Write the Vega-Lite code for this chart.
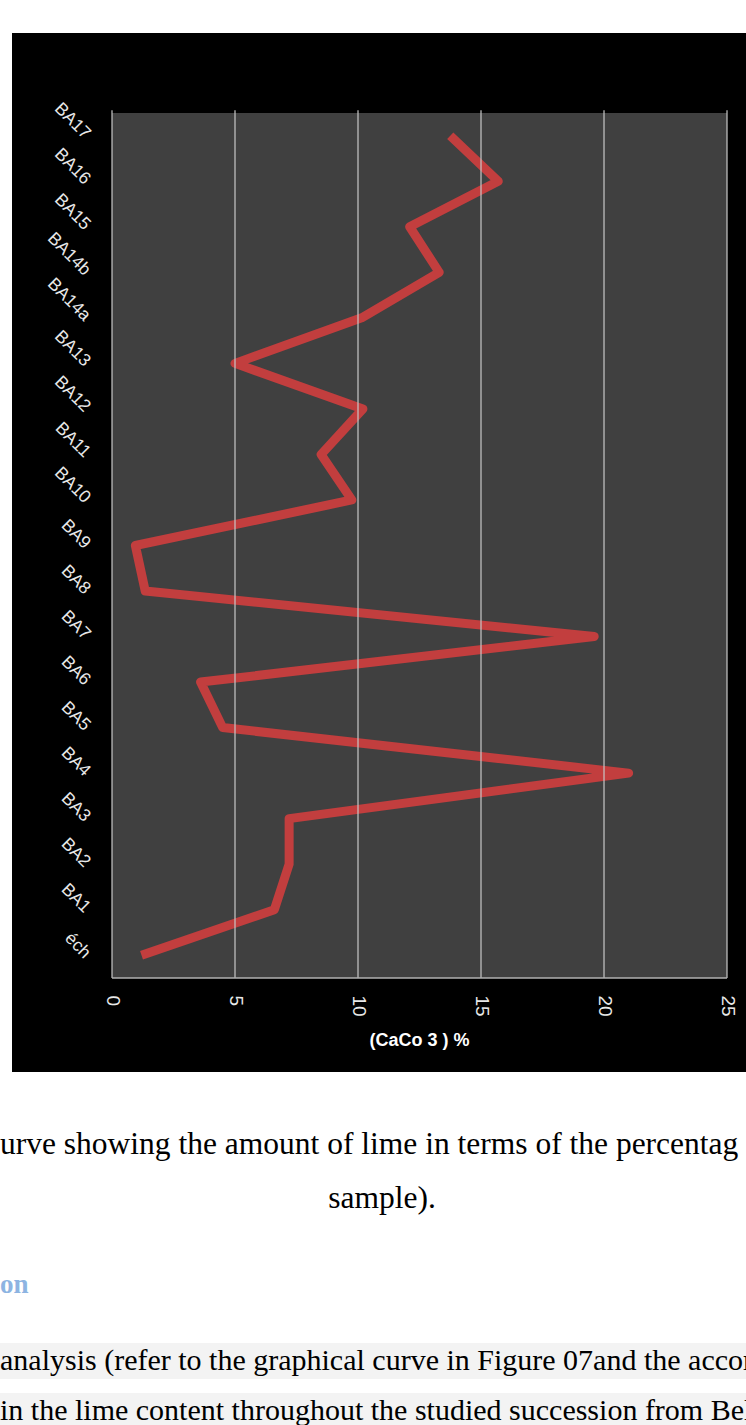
{
  "$schema": "https://vega.github.io/schema/vega-lite/v6.json",
  "width": 734,
  "height": 1039,
  "autosize": "none",
  "padding": {"left": 12, "top": 33, "right": 0, "bottom": 353},
  "background": "white",
  "config": {"view": {"fill": "black", "stroke": null}},
  "resolve": {"axis": {"x": "independent", "y": "independent"}},
  "layer": [
    {
      "data": {"values": [{}]},
      "mark": {"type": "rect", "color": "#404040"},
      "encoding": {
        "x": {"datum": 0, "type": "quantitative", "scale": {"domain": [-4.065, 25.772], "nice": false, "zero": false}, "axis": null},
        "x2": {"datum": 25},
        "y": {"datum": -0.5, "type": "quantitative", "scale": {"domain": [-2.565, 20.257], "nice": false, "zero": false}, "axis": null},
        "y2": {"datum": 18.5}
      }
    },
    {
      "data": {"values": [
        {"sample": "éch", "order": 0, "caco3": 1.2},
        {"sample": "BA1", "order": 1, "caco3": 6.6},
        {"sample": "BA2", "order": 2, "caco3": 7.2},
        {"sample": "BA3", "order": 3, "caco3": 7.2},
        {"sample": "BA4", "order": 4, "caco3": 21.0},
        {"sample": "BA5", "order": 5, "caco3": 4.5},
        {"sample": "BA6", "order": 6, "caco3": 3.6},
        {"sample": "BA7", "order": 7, "caco3": 19.6},
        {"sample": "BA8", "order": 8, "caco3": 1.35},
        {"sample": "BA9", "order": 9, "caco3": 0.95},
        {"sample": "BA10", "order": 10, "caco3": 9.75},
        {"sample": "BA11", "order": 11, "caco3": 8.5},
        {"sample": "BA12", "order": 12, "caco3": 10.2},
        {"sample": "BA13", "order": 13, "caco3": 5.0},
        {"sample": "BA14a", "order": 14, "caco3": 10.15},
        {"sample": "BA14b", "order": 15, "caco3": 13.3},
        {"sample": "BA15", "order": 16, "caco3": 12.1},
        {"sample": "BA16", "order": 17, "caco3": 15.7},
        {"sample": "BA17", "order": 18, "caco3": 13.75}
      ]},
      "mark": {"type": "line", "color": "#c23e3e", "strokeWidth": 9, "strokeJoin": "round", "strokeCap": "butt"},
      "encoding": {
        "x": {
          "field": "caco3", "type": "quantitative",
          "scale": {"domain": [-4.065, 25.772], "nice": false, "zero": false},
          "axis": {
            "orient": "bottom", "offset": -94, "values": [0, 5, 10, 15, 20, 25],
            "grid": false, "domain": false, "ticks": false,
            "labelAngle": 90, "labelAlign": "left", "labelBaseline": "middle", "labelPadding": 17,
            "labelFont": "Liberation Sans", "labelFontSize": 19, "labelColor": "#e8e8e8",
            "labelFlush": false, "labelOverlap": false,
            "title": "(CaCo 3 ) %", "titleFont": "Liberation Sans", "titleFontSize": 18, "titleFontWeight": "bold",
            "titleColor": "#ffffff", "titleX": 407, "titleY": 62, "titleAlign": "center", "titleBaseline": "middle"
          }
        },
        "y": {
          "field": "order", "type": "quantitative",
          "scale": {"domain": [-2.565, 20.257], "nice": false, "zero": false},
          "axis": {
            "orient": "left", "offset": -100, "values": [0, 1, 2, 3, 4, 5, 6, 7, 8, 9, 10, 11, 12, 13, 14, 15, 16, 17, 18],
            "labelExpr": "['éch','BA1','BA2','BA3','BA4','BA5','BA6','BA7','BA8','BA9','BA10','BA11','BA12','BA13','BA14a','BA14b','BA15','BA16','BA17'][datum.value]",
            "grid": false, "domain": false, "ticks": false,
            "labelAngle": 45, "labelAlign": "right", "labelBaseline": "middle", "labelPadding": 25,
            "labelFont": "Liberation Sans", "labelFontSize": 17.5, "labelColor": "#e8e8e8",
            "labelFlush": false, "labelOverlap": false, "title": null
          }
        },
        "order": {"field": "order", "type": "quantitative"}
      }
    },
    {
      "data": {"values": [{"v": 0}, {"v": 5}, {"v": 10}, {"v": 15}, {"v": 20}, {"v": 25}]},
      "mark": {"type": "rule", "color": "#c8c8c8", "strokeWidth": 1.2},
      "encoding": {
        "x": {"field": "v", "type": "quantitative", "scale": {"domain": [-4.065, 25.772], "nice": false, "zero": false}, "axis": null},
        "y": {"datum": -0.5, "type": "quantitative", "scale": {"domain": [-2.565, 20.257], "nice": false, "zero": false}, "axis": null},
        "y2": {"datum": 18.56}
      }
    },
    {
      "data": {"values": [{}]},
      "mark": {"type": "rule", "color": "#b0b0b0", "strokeWidth": 1.5},
      "encoding": {
        "x": {"datum": 0, "type": "quantitative", "scale": {"domain": [-4.065, 25.772], "nice": false, "zero": false}, "axis": null},
        "x2": {"datum": 25},
        "y": {"datum": -0.5, "type": "quantitative", "scale": {"domain": [-2.565, 20.257], "nice": false, "zero": false}, "axis": null}
      }
    },
    {
      "data": {"values": [{"y0": -8.518, "y1": -9.308}, {"y0": -9.616, "y1": -10.8}]},
      "mark": {"type": "rect", "color": "#f3f3f3"},
      "encoding": {
        "x": {"datum": -4.6, "type": "quantitative", "scale": {"domain": [-4.065, 25.772], "nice": false, "zero": false}, "axis": null},
        "x2": {"datum": 26.5},
        "y": {"field": "y0", "type": "quantitative", "scale": {"domain": [-2.565, 20.257], "nice": false, "zero": false}, "axis": null},
        "y2": {"field": "y1"}
      }
    },
    {
      "data": {"values": [{}]},
      "mark": {"type": "text", "text": "urve showing the amount of lime in terms of the percentag", "font": "Liberation Serif", "fontSize": 31.5, "align": "left", "baseline": "alphabetic", "color": "black"},
      "encoding": {
        "x": {"datum": -4.553, "type": "quantitative", "scale": {"domain": [-4.065, 25.772], "nice": false, "zero": false}, "axis": null},
        "y": {"datum": -4.366, "type": "quantitative", "scale": {"domain": [-2.565, 20.257], "nice": false, "zero": false}, "axis": null}
      }
    },
    {
      "data": {"values": [{}]},
      "mark": {"type": "text", "text": "sample).", "font": "Liberation Serif", "fontSize": 31.5, "align": "center", "baseline": "alphabetic", "color": "black"},
      "encoding": {
        "x": {"datum": 10.976, "type": "quantitative", "scale": {"domain": [-4.065, 25.772], "nice": false, "zero": false}, "axis": null},
        "y": {"datum": -5.552, "type": "quantitative", "scale": {"domain": [-2.565, 20.257], "nice": false, "zero": false}, "axis": null}
      }
    },
    {
      "data": {"values": [{}]},
      "mark": {"type": "text", "text": "on", "font": "Liberation Serif", "fontSize": 27, "fontWeight": "bold", "align": "left", "baseline": "alphabetic", "color": "#8db4e2"},
      "encoding": {
        "x": {"datum": -4.553, "type": "quantitative", "scale": {"domain": [-4.065, 25.772], "nice": false, "zero": false}, "axis": null},
        "y": {"datum": -7.419, "type": "quantitative", "scale": {"domain": [-2.565, 20.257], "nice": false, "zero": false}, "axis": null}
      }
    },
    {
      "data": {"values": [{}]},
      "mark": {"type": "text", "text": "analysis (refer to the graphical curve in Figure 07and the accom", "font": "Liberation Serif", "fontSize": 30, "align": "left", "baseline": "alphabetic", "color": "black"},
      "encoding": {
        "x": {"datum": -4.553, "type": "quantitative", "scale": {"domain": [-4.065, 25.772], "nice": false, "zero": false}, "axis": null},
        "y": {"datum": -9.111, "type": "quantitative", "scale": {"domain": [-2.565, 20.257], "nice": false, "zero": false}, "axis": null}
      }
    },
    {
      "data": {"values": [{}]},
      "mark": {"type": "text", "text": "in the lime content throughout the studied succession from Beld", "font": "Liberation Serif", "fontSize": 30, "align": "left", "baseline": "alphabetic", "color": "black"},
      "encoding": {
        "x": {"datum": -4.553, "type": "quantitative", "scale": {"domain": [-4.065, 25.772], "nice": false, "zero": false}, "axis": null},
        "y": {"datum": -10.209, "type": "quantitative", "scale": {"domain": [-2.565, 20.257], "nice": false, "zero": false}, "axis": null}
      }
    }
  ]
}
